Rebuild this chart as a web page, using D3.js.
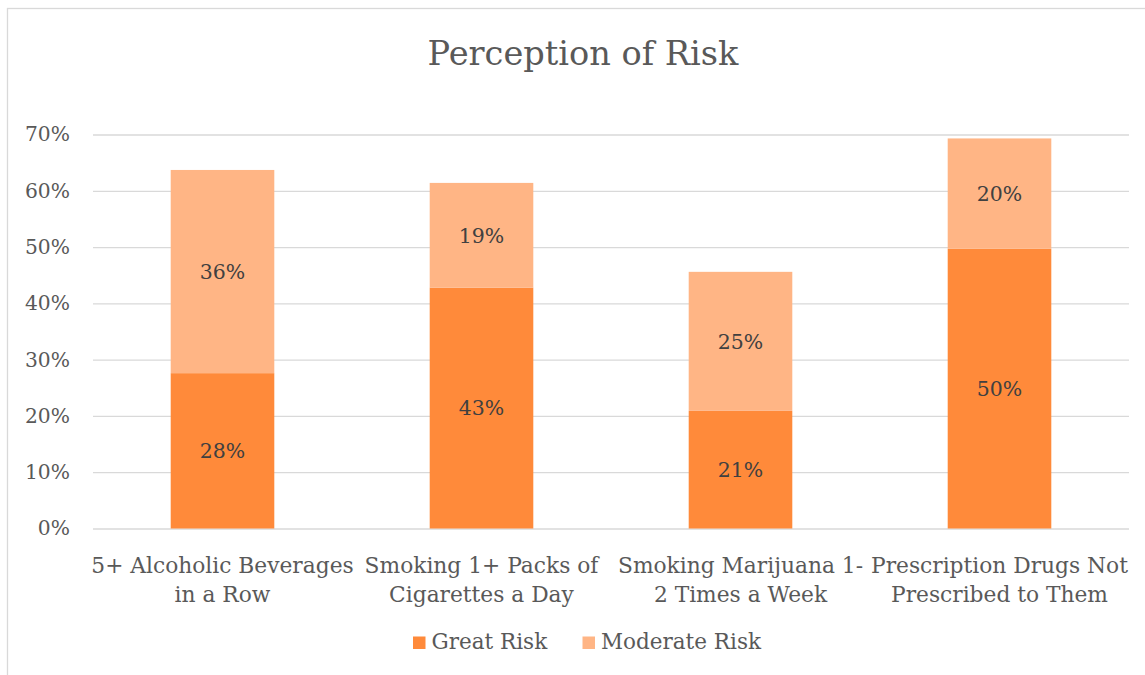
<!DOCTYPE html>
<html><head><meta charset="utf-8">
<script src="https://cdn.jsdelivr.net/npm/d3@7"></script>
<style>
html,body{margin:0;padding:0;background:#fff;}
svg{display:block;}
text{font-family:"DejaVu Serif","Liberation Serif",serif;}
</style></head>
<body>
<svg id="chart" width="1145" height="675"></svg>
<script>
const categories = [
  ["5+ Alcoholic Beverages", "in a Row"],
  ["Smoking 1+ Packs of", "Cigarettes a Day"],
  ["Smoking Marijuana 1-", "2 Times a Week"],
  ["Prescription Drugs Not", "Prescribed to Them"]
];
const seriesNames = ["Great Risk", "Moderate Risk"];
const greatRisk = [27.6, 42.8, 20.9, 49.7];
const moderateRisk = [36.1, 18.6, 24.7, 19.6];
const yTicks = [0, 10, 20, 30, 40, 50, 60, 70];
const colors = ["#FF8A3A", "#FFB585"];

const svg = d3.select("#chart");
const W = 1145, H = 675;
const margin = {left: 93, right: 16, top: 134.5, bottom: 146.5};

// scale a group's font so a sample text matches the reference width
function fit(sel, sampleNode, target, base) {
  const w = sampleNode.getComputedTextLength();
  const fs = (base * target / w).toFixed(2) + "px";
  sel.style("font-size", fs);
}

// frame
svg.append("rect").attr("x", 7.5).attr("y", 8.5).attr("width", W + 10).attr("height", H + 10)
  .attr("fill", "#fff").attr("stroke", "#D9D9D9").attr("stroke-width", 1.3);

const x = d3.scaleBand().domain(d3.range(categories.length))
  .range([margin.left, W - margin.right]).paddingInner(0.6).paddingOuter(0.3);
const y = d3.scaleLinear().domain([0, 70]).range([H - margin.bottom, margin.top]);

// gridlines + y axis
const yAxis = d3.axisLeft(y).tickValues(yTicks).tickFormat(d => d + "%")
  .tickSize(-(W - margin.right - margin.left)).tickPadding(23);
const gy = svg.append("g").attr("transform", `translate(${margin.left},0)`).call(yAxis);
gy.attr("font-family", null).attr("font-size", null);
gy.select(".domain").remove();
gy.selectAll(".tick line").attr("stroke", "#D9D9D9").attr("stroke-width", 1.3);
const tickTexts = gy.selectAll(".tick text").attr("fill", "#595959")
  .style("font-family", '"DejaVu Serif", serif').style("font-size", "20px");
fit(tickTexts, tickTexts.nodes()[tickTexts.size() - 1], 45, 20);

// stacked data
const rows = categories.map((c, i) => ({i, g: greatRisk[i], m: moderateRisk[i]}));
const stack = d3.stack().keys(["g", "m"])(rows);

const layers = svg.append("g").selectAll("g").data(stack).join("g")
  .attr("fill", (d, k) => colors[k]);
layers.selectAll("rect").data(d => d).join("rect")
  .attr("x", d => x(d.data.i))
  .attr("width", x.bandwidth())
  .attr("y", d => y(d[1]))
  .attr("height", d => y(d[0]) - y(d[1]));

// data labels
const labels = svg.append("g").style("font-size", "20px");
stack.forEach((layer, k) => {
  labels.selectAll(null).data(layer).join("text")
    .attr("x", d => x(d.data.i) + x.bandwidth() / 2)
    .attr("y", d => y((d[0] + d[1]) / 2))
    .attr("dy", "0.36em")
    .attr("text-anchor", "middle")
    .attr("fill", "#404040")
    .text(d => Math.round(d[1] - d[0]) + "%");
});
fit(labels, labels.select("text").node(), 45.5, 20);

// category labels
const xl = svg.append("g").style("font-size", "20px");
let sample = null;
categories.forEach((lines, i) => {
  const t = xl.append("text").attr("text-anchor", "middle").attr("fill", "#595959");
  lines.forEach((ln, j) => {
    const s = t.append("tspan").attr("x", x(i) + x.bandwidth() / 2).attr("y", 573 + j * 28.5).text(ln);
    if (i === 3 && j === 0) sample = s.node();
  });
});
{
  const tmp = xl.append("text").text(categories[3][0]);
  const w = tmp.node().getComputedTextLength();
  tmp.remove();
  xl.style("font-size", (20 * 257 / w).toFixed(2) + "px");
}

// title
const title = svg.append("text").attr("x", 583).attr("y", 65).attr("text-anchor", "middle")
  .attr("fill", "#595959").style("font-size", "30px").text("Perception of Risk");
fit(title, title.node(), 311, 30);

// legend
const legend = svg.append("g").style("font-size", "20px");
const legX = [413, 582.5];
seriesNames.forEach((n, k) => {
  legend.append("rect").attr("x", legX[k]).attr("y", 636.5).attr("width", 12.5).attr("height", 12.5)
    .attr("fill", colors[k]);
  legend.append("text").attr("x", legX[k] + 18.5).attr("y", 649).attr("fill", "#595959").text(n);
});
fit(legend, legend.selectAll("text").nodes()[1], 160, 20);
</script>
</body></html>
